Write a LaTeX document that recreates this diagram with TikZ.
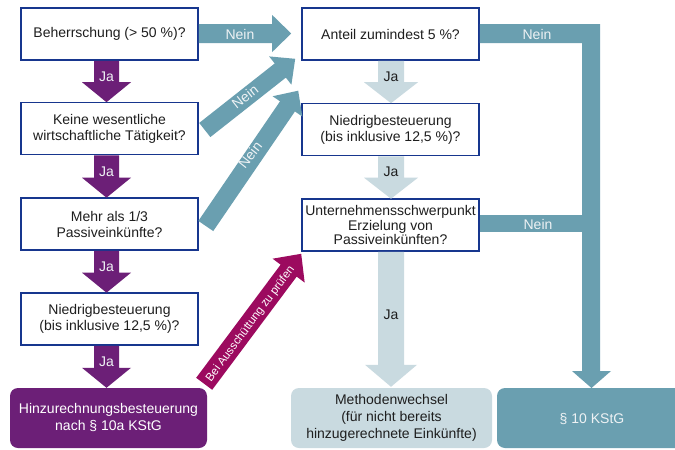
\documentclass[tikz,border=0pt]{standalone}
\usepackage{fontspec}
\setmainfont{Liberation Sans}
\usetikzlibrary{calc}
\definecolor{navy}{HTML}{17368E}
\definecolor{purp}{HTML}{6C1F77}
\definecolor{teal2}{HTML}{6A9FB0}
\definecolor{lightb}{HTML}{C9DAE0}
\definecolor{mag}{HTML}{9C0A5F}
\definecolor{darktext}{HTML}{1E1E1E}
\definecolor{paletext}{HTML}{EEF2F4}
% #1 colour, #2 start, #3 end, #4 shaft half width, #5 head half width, #6 head length
\newcommand\fatarrow[6]{%
  \path ($(#3)!#6!(#2)$) coordinate (fa-h);
  \fill[#1] ($(#2)!#4!90:(#3)$) -- ($(fa-h)!#4!-90:(#2)$) -- ($(fa-h)!#5!-90:(#2)$)
    -- (#3) -- ($(fa-h)!#5!90:(#2)$) -- ($(fa-h)!#4!90:(#2)$) -- ($(#2)!#4!-90:(#3)$) -- cycle;}
\begin{document}
\begin{tikzpicture}[x=1pt,y=-1pt,
  qbox/.style={draw=navy, line width=1.6pt, fill=white, minimum width=177pt, minimum height=52pt,
    inner sep=0pt, align=center, text=darktext, font=\fontsize{14}{16}\selectfont},
  endbox/.style={rounded corners=8pt, minimum height=60pt, inner sep=0pt, align=center,
    font=\fontsize{14}{17}\selectfont},
  lbl/.style={inner sep=0pt, font=\fontsize{14}{16}\selectfont},
  jaw/.style={lbl, text=paletext},
  jad/.style={lbl, text=darktext},
  neinl/.style={lbl, text=paletext}]
\useasboundingbox (0,0) rectangle (675,450);
\clip (0,0) rectangle (675,450);
\fill[white] (0,0) rectangle (675,450);

% question boxes
\node[qbox] (b1) at (109.5,34) {Beherrschung (> 50 \%)?};
\node[qbox] (b2) at (109.5,128.5) {Keine wesentliche\\wirtschaftliche Tätigkeit?};
\node[qbox] (b3) at (109.5,224) {Mehr als 1/3\\Passiveinkünfte?};
\node[qbox] (b4) at (109.5,319) {Niedrigbesteuerung\\(bis inklusive 12,5 \%)?};
\node[qbox] (r1) at (390.5,34) {Anteil zumindest 5 \%?};
\node[qbox] (r2) at (390.5,129.5) {Niedrigbesteuerung\\(bis inklusive 12,5 \%)?};
\node[qbox, font=\fontsize{14}{14.5}\selectfont] (r3) at (390.5,225) {Unternehmensschwerpunkt\\Erzielung von\\Passiveinkünften?};

% end boxes
\node[endbox, fill=purp, text=white, minimum width=197pt] (hz) at (108.5,418) {Hinzurechnungsbesteuerung\\nach § 10a KStG};
\node[endbox, fill=lightb, text=darktext, minimum width=201pt] (mw) at (391.5,418) {Methodenwechsel\\(für nicht bereits\\hinzugerechnete Einkünfte)};
\node[endbox, fill=teal2, minimum width=193pt] (tenk) at (593.5,418) {};
\node[lbl, text=paletext] (tenkt) at (592,419) {§ 10 KStG};

% purple Ja arrows
\coordinate (p1a) at ([xshift=-3pt]b1.south);
\coordinate (p1b) at ([xshift=-3pt,yshift=-0.5pt]b2.north);
\coordinate (p2a) at ([xshift=-3pt]b2.south);
\coordinate (p2b) at ([xshift=-3pt,yshift=-0.5pt]b3.north);
\coordinate (p3a) at ([xshift=-3pt]b3.south);
\coordinate (p3b) at ([xshift=-3pt,yshift=-0.5pt]b4.north);
\coordinate (p4a) at ([xshift=-3pt]b4.south);
\coordinate (p4b) at ([xshift=-2pt]hz.north);
\fatarrow{purp}{p1a}{p1b}{12.5pt}{24.5pt}{20pt}
\fatarrow{purp}{p2a}{p2b}{12.5pt}{24.5pt}{20pt}
\fatarrow{purp}{p3a}{p3b}{12.5pt}{24.5pt}{20pt}
\fatarrow{purp}{p4a}{p4b}{12.5pt}{24.5pt}{20pt}
\node[jaw] (ja1) at (106.5,77) {Ja};
\node[jaw] (ja2) at (106.5,172) {Ja};
\node[jaw] (ja3) at (106.5,267) {Ja};
\node[jaw] (ja4) at (106.5,362) {Ja};

% light Ja arrows
\coordinate (l1a) at ([xshift=0.5pt]r1.south);
\coordinate (l1b) at ([xshift=0.5pt,yshift=-0.5pt]r2.north);
\coordinate (l2a) at ([xshift=0.5pt]r2.south);
\coordinate (l2b) at ([xshift=0.5pt,yshift=-0.5pt]r3.north);
\coordinate (l3a) at ([xshift=0.5pt]r3.south);
\coordinate (l3b) at ([xshift=-0.5pt,yshift=1pt]mw.north);
\fatarrow{lightb}{l1a}{l1b}{13pt}{27pt}{21pt}
\fatarrow{lightb}{l2a}{l2b}{13pt}{27pt}{21pt}
\fatarrow{lightb}{l3a}{l3b}{13pt}{26pt}{22pt}
\node[jad] (jr1) at (391,77) {Ja};
\node[jad] (jr2) at (391,172) {Ja};
\node[jad] (jr3) at (391,315) {Ja};

% teal Nein arrows to the right column
\coordinate (n1a) at ([yshift=0.5pt]b1.east);
\coordinate (n1b) at ([xshift=-10pt,yshift=0.5pt]r1.west);
\fatarrow{teal2}{n1a}{n1b}{9.5pt}{18.5pt}{19pt}
\node[neinl] (nl1) at (240,34) {Nein};
\coordinate (n2a) at ([xshift=6pt,yshift=-1.5pt]b2.east);
\coordinate (n2b) at ([xshift=-6pt,yshift=2pt]r1.south west);
\fatarrow{teal2}{n2a}{n2b}{9pt}{18pt}{19pt}
\node[neinl, rotate=38] (nl2) at (245,97) {Nein};
\coordinate (n3a) at ([xshift=7pt,yshift=-2pt]b3.east);
\coordinate (n3b) at ([xshift=-3pt,yshift=12pt]r2.north west);
\fatarrow{teal2}{n3a}{n3b}{9pt}{18pt}{19pt}
\node[neinl, rotate=52] (nl3) at (250,155) {Nein};

% magenta arrow
\coordinate (ma) at ([xshift=-3pt,yshift=4pt]hz.north east);
\coordinate (mb) at ([yshift=-2pt]r3.south west);
\fatarrow{mag}{ma}{mb}{10pt}{20pt}{21pt}
\node[inner sep=0pt, text=white, font=\fontsize{11.5}{12}\selectfont, rotate=53.5] (mt) at (250.5,324) {Bei Ausschüttung zu prüfen};

% right Nein path to § 10 KStG
\fill[teal2] (r1.east |- 0,24) -- (600,24) -- (600,371) -- (611,371) -- (591.5,388)
  -- (572,371) -- (582,371) -- (582,43) -- (r1.east |- 0,43) -- cycle;
\fill[teal2] (r3.east |- 0,215) rectangle (582.5,232);
\node[neinl] (nr1) at (537,34) {Nein};
\node[neinl] (nr2) at (538,224) {Nein};
\end{tikzpicture}
\end{document}
